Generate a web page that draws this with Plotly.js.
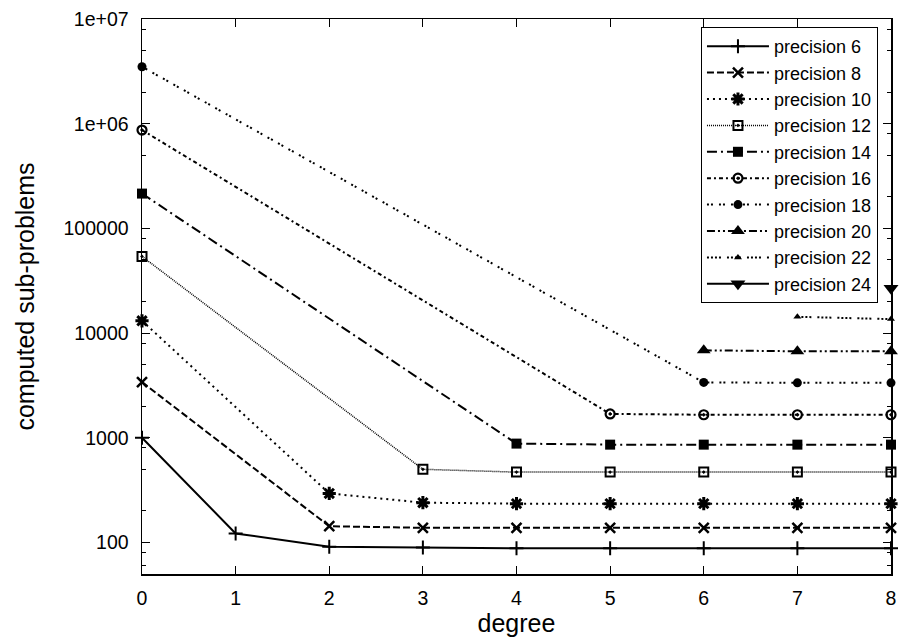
<!DOCTYPE html>
<html>
<head>
<meta charset="utf-8">
<script src="https://cdn.plot.ly/plotly-3.0.1.min.js"></script>
<style>html,body{margin:0;padding:0;background:#fff;}#chart{width:899px;height:643px;}</style>
</head>
<body>
<div id="chart"></div>
<script>
// ---- data ----
const seriesNames = ["precision 6","precision 8","precision 10","precision 12","precision 14",
                     "precision 16","precision 18","precision 20","precision 22","precision 24"];
const x6  = [0,1,2,3,4,5,6,7,8];
const y6  = [1000,122,91,89.5,88,88,88,88,88];
const x8  = [0,2,3,4,5,6,7,8];
const y8  = [3400,143,138,138,138,138,138,138];
const x10 = [0,2,3,4,5,6,7,8];
const y10 = [13100,294,240,235,235,235,235,235];
const x12 = [0,3,4,5,6,7,8];
const y12 = [54000,500,470,470,470,470,470];
const x14 = [0,4,5,6,7,8];
const y14 = [215000,880,860,860,860,860];
const x16 = [0,5,6,7,8];
const y16 = [870000,1690,1660,1660,1660];
const x18 = [0,6,7,8];
const y18 = [3500000,3380,3350,3350];
const x20 = [6,7,8];
const y20 = [6850,6700,6700];
const x22 = [7,8];
const y22 = [14300,13600];
const x24 = [8];
const y24 = [26800];
const xTickVals = [0,1,2,3,4,5,6,7,8];
const xTickText = ["0","1","2","3","4","5","6","7","8"];
const yTickVals = [100,1000,10000,100000,1000000,10000000];
const yTickText = ["100","1000","10000","100000","1e+06","1e+07"];
const yMinorVals = [60,80,200,500,800,2000,5000,8000,20000,50000,80000,200000,500000,800000,2000000,5000000,8000000];

// ---- styles ----
const xs = [x6,x8,x10,x12,x14,x16,x18,x20,x22,x24];
const ys = [y6,y8,y10,y12,y14,y16,y18,y20,y22,y24];
const styles = [
  {dash:"solid", w:2, sym:"cross-thin", size:10, lw:2},
  {dash:"7px,3px", w:2, sym:"x-thin", size:10, lw:2.5},
  {dash:"2px,4px", w:2, sym:"asterisk", size:11, lw:3},
  {dash:"1px,1px", w:1.5, sym:"square-open-dot", size:9, lw:2},
  {dash:"10px,4px,2px,4px", w:2, sym:"square", size:10, lw:0},
  {dash:"4px,3px,2px,3px", w:2, sym:"circle-open-dot", size:9, lw:2.2},
  {dash:"2px,2px,2px,6px", w:2, sym:"circle", size:9, lw:0},
  {dash:"8px,3px,2px,3px,2px,3px", w:2, sym:"triangle-up", size:12, lw:0},
  {dash:"2px,2px,2px,2px,2px,2px,2px,6px", w:2, sym:"triangle-up", size:7, lw:0},
  {dash:"solid", w:2, sym:"triangle-down", size:13, lw:0}
];

const traces = seriesNames.map((n,i)=>({
  type:"scatter", mode:"lines+markers", name:n,
  x:xs[i], y:ys[i], cliponaxis:false,
  line:{color:"#000", width:styles[i].w, dash:styles[i].dash},
  marker:{color:"#000", symbol:styles[i].sym, size:styles[i].size,
          line:{color:"#000", width:styles[i].lw}}
}));

const fam = "Liberation Sans, Arial, sans-serif";

const layout = {
  width:899, height:643,
  margin:{l:142, r:8, t:19, b:69},
  paper_bgcolor:"#fff", plot_bgcolor:"#fff",
  font:{family:fam, size:19.5, color:"#000"},
  showlegend:true,
  legend:{x:0.9826, xanchor:"right", y:0.9856, yanchor:"top",
          bgcolor:"#fff", bordercolor:"#000", borderwidth:1,
          font:{family:fam, size:18, color:"#000"},
          itemwidth:62, tracegroupgap:0},
  xaxis:{range:[0,8], tickmode:"array", tickvals:xTickVals, ticktext:xTickText,
         ticks:"inside", ticklen:8, tickwidth:1, tickcolor:"#000",
         showline:true, linecolor:"#000", linewidth:1.5, mirror:"allticks",
         showgrid:false, zeroline:false, ticklabelstandoff:6,
         title:{text:"degree", font:{family:fam, size:25, color:"#000"}, standoff:4}},
  yaxis:{type:"log", range:[Math.log10(50), 7], tickmode:"array", tickvals:yTickVals, ticktext:yTickText,
         ticks:"inside", ticklen:8, tickwidth:1, tickcolor:"#000",
         showline:true, linecolor:"#000", linewidth:1.5, mirror:"allticks",
         showgrid:false, zeroline:false, ticklabelstandoff:8,
         minor:{tickmode:"array", tickvals:yMinorVals, ticks:"inside", ticklen:4, tickwidth:1, tickcolor:"#000", showgrid:false},
         title:{text:"computed sub-problems", font:{family:fam, size:25, color:"#000"}, standoff:22}}
};

Plotly.newPlot("chart", traces, layout, {displayModeBar:false, staticPlot:true});
</script>
</body>
</html>
